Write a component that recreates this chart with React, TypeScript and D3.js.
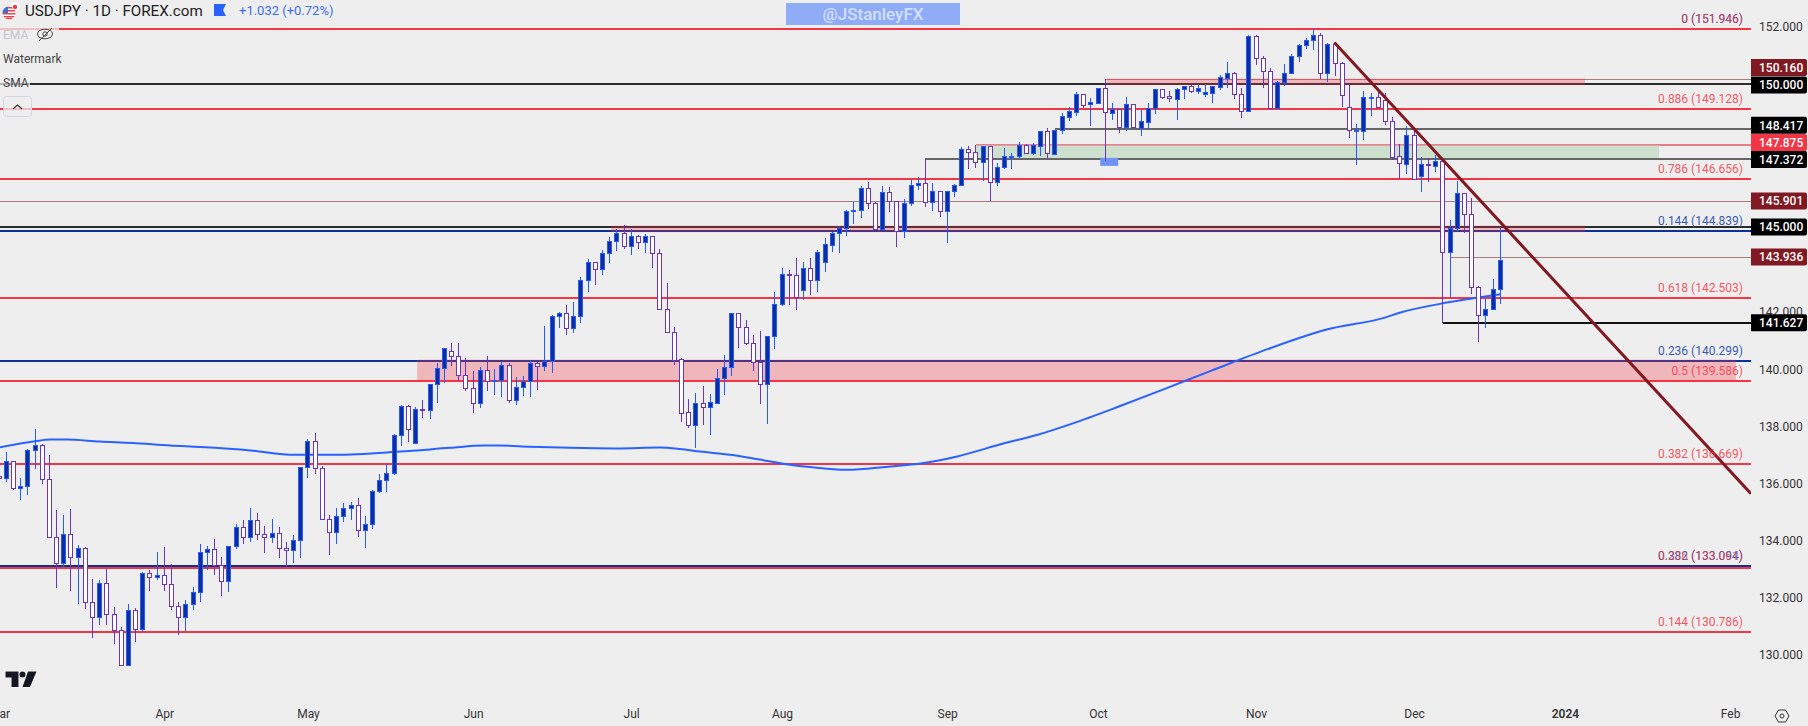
import React, { useEffect, useRef } from 'react';
import * as d3 from 'd3';

const highs = [136.30,
  137.10,136.78,136.19,137.20,137.90,137.38,137.00,135.07,134.90,135.11,
  133.85,133.78,132.65,132.62,133.00,131.67,130.94,131.78,131.64,132.90,
  132.97,133.60,133.78,133.18,131.84,131.92,132.37,133.88,133.81,134.06,
  133.40,133.81,134.58,134.72,135.14,134.97,134.51,134.76,134.48,133.95,
  134.20,136.58,137.56,137.77,136.61,134.90,135.14,135.32,135.35,135.49,
  134.86,135.77,136.33,136.68,137.72,
  138.73,138.73,138.68,138.93,139.49,
  140.22,140.74,140.92,140.92,140.40,139.94,140.08,140.47,140.01,140.26,
  140.22,139.73,139.77,140.33,140.26,141.52,141.91,142.01,142.26,142.36,
  143.24,143.87,143.76,144.18,144.64,144.92,145.06,144.92,144.70,144.73,
  144.67,144.22,143.03,141.49,140.40,138.96,139.17,139.42,139.14,140.01,
  140.50,141.98,141.98,141.73,141.21,141.35,141.17,142.71,143.55,143.48,
  143.90,143.76,143.90,144.18,144.60,144.80,145.03,145.59,145.87,146.43,
  146.57,145.85,146.43,146.39,145.90,145.97,146.64,146.74,147.41,146.53,
  146.25,146.25,146.50,147.79,147.83,147.86,147.83,147.83,147.22,147.76,
  147.58,147.97,147.90,147.93,148.35,148.46,148.39,148.98,149.20,149.72,
  149.65,149.51,149.87,150.16,149.33,149.12,149.55,149.30,149.09,149.33,
  149.83,149.83,149.76,149.86,149.93,149.97,150.00,150.00,149.93,150.30,
  150.77,150.42,149.86,151.72,151.72,150.98,150.56,150.09,150.70,151.04,
  151.40,151.61,151.92,151.79,151.44,151.47,150.77,150.00,148.60,149.76,
  149.69,149.72,149.69,148.84,147.90,148.53,148.39,147.44,147.41,147.52,
  147.34,145.23,146.60,146.19,146.01,142.92,142.47,143.17,144.98];

const lows = [136.15,
  136.03,135.75,135.40,135.57,136.49,135.96,134.11,132.32,133.05,132.23,
  131.75,131.58,130.56,131.04,131.02,130.35,129.63,129.63,130.44,130.77,
  132.21,132.60,132.21,131.54,130.67,130.81,131.54,131.85,132.97,132.77,
  132.04,132.18,133.71,133.88,133.95,134.02,133.57,133.92,133.39,133.06,
  133.21,133.36,136.19,136.33,134.75,133.50,133.88,134.65,134.72,134.13,
  133.74,134.41,135.67,135.70,136.30,
  137.29,137.43,137.41,138.27,138.25,
  138.82,139.50,140.12,139.59,139.25,138.46,138.64,139.25,139.10,139.03,
  138.82,138.75,139.07,139.03,139.28,139.94,139.87,141.45,141.21,141.28,
  141.63,142.71,142.96,143.31,143.73,144.15,144.22,144.01,144.22,144.08,
  143.55,142.10,141.30,140.15,138.16,137.95,137.25,138.03,137.70,138.79,
  139.10,139.77,140.75,140.85,139.94,138.79,138.09,140.71,142.22,142.26,
  142.08,142.43,142.61,142.71,143.41,144.11,144.07,144.67,145.10,145.31,
  145.62,144.89,144.89,145.52,144.30,144.60,145.73,146.29,145.69,145.55,
  145.34,144.42,146.04,146.43,147.02,147.06,146.60,145.89,146.43,147.02,
  147.02,147.40,147.55,147.51,147.48,147.37,147.51,148.25,148.70,148.88,
  149.16,148.53,149.32,147.31,148.74,148.28,148.35,148.45,148.18,148.42,
  148.95,149.47,149.37,148.74,149.47,149.69,149.65,149.55,149.33,149.79,
  149.86,149.47,148.81,149.02,150.67,149.86,149.16,149.16,149.93,150.36,
  150.77,151.23,151.19,150.16,150.07,150.28,149.19,148.11,147.16,148.04,
  148.88,149.16,148.56,147.34,146.67,146.85,146.64,146.22,146.57,146.92,
  141.63,142.52,144.84,144.76,142.65,140.97,141.46,142.08,142.27];

const opens = [136.24,
  136.18,136.77,135.83,135.90,137.16,137.34,136.15,134.11,133.20,134.22,
  133.41,133.73,131.84,131.31,132.50,131.42,130.86,129.63,131.56,130.89,
  132.85,132.71,132.78,132.47,131.70,131.31,131.77,132.19,133.59,133.69,
  133.13,132.57,133.80,134.46,134.11,134.71,134.22,134.11,134.25,133.73,
  133.66,134.01,136.57,137.48,136.53,134.75,134.29,134.85,135.13,135.24,
  134.36,134.57,135.73,136.11,136.36,
  137.69,138.71,137.41,138.60,138.57,
  139.48,140.04,140.63,140.46,139.79,139.34,138.81,139.97,139.58,139.62,
  140.14,138.92,139.37,139.58,140.21,140.11,140.28,141.86,141.96,141.44,
  141.86,143.12,143.75,143.51,144.07,144.49,144.77,144.31,144.66,144.45,
  144.66,144.07,142.10,141.30,140.35,138.50,138.03,138.81,138.69,138.83,
  139.68,140.07,141.96,141.47,140.91,140.26,139.48,141.16,142.28,143.33,
  143.30,142.78,143.55,143.13,143.76,144.36,144.77,144.94,145.55,145.57,
  146.35,145.82,144.91,146.20,145.89,144.84,145.82,146.45,146.52,145.85,
  146.24,145.53,146.24,146.45,147.71,147.63,147.28,147.82,146.58,147.08,
  147.45,147.47,147.85,147.59,147.84,148.34,147.55,148.38,148.86,149.03,
  149.64,149.29,149.35,149.85,149.00,149.11,148.51,149.29,148.47,148.68,
  149.15,149.81,149.57,149.49,149.81,149.92,149.77,149.64,149.70,149.91,
  150.22,150.37,149.64,149.07,151.67,150.93,150.44,149.17,150.06,150.37,
  150.97,151.36,151.53,151.71,150.37,151.39,150.72,149.18,148.37,148.37,
  149.52,149.53,149.43,148.69,147.47,147.21,148.20,146.79,147.19,147.14,
  147.29,144.12,144.94,146.17,145.43,142.88,141.89,142.10,142.81];

const closes = [136.20,
  136.77,135.83,135.90,137.16,137.34,136.15,134.11,133.20,134.22,133.41,
  133.73,131.84,131.31,132.50,131.42,130.86,129.63,131.56,130.89,132.85,
  132.71,132.78,132.47,131.70,131.31,131.77,132.19,133.59,133.69,133.13,
  132.57,133.80,134.46,134.11,134.71,134.22,134.11,134.25,133.73,133.66,
  134.01,136.57,137.48,136.53,134.75,134.29,134.85,135.13,135.24,134.36,
  134.57,135.73,136.11,136.36,137.69,
  138.72,137.90,138.60,138.59,139.48,
  140.04,140.74,140.46,139.79,139.34,138.81,139.97,139.58,139.62,140.14,
  138.92,139.37,139.58,140.21,140.11,140.28,141.86,141.96,141.44,141.86,
  143.12,143.75,143.51,144.07,144.49,144.77,144.31,144.66,144.45,144.66,
  144.07,142.10,141.30,140.33,138.48,138.03,138.81,138.69,138.85,139.69,
  140.07,141.96,141.47,140.91,140.26,139.48,141.16,142.28,143.33,143.31,
  142.53,143.55,143.13,144.11,144.39,144.77,144.94,145.54,145.59,146.35,
  145.82,144.91,146.20,145.89,144.84,145.82,146.45,146.52,145.85,146.24,
  145.53,146.24,146.45,147.71,147.63,147.28,147.82,146.58,147.08,147.47,
  147.48,147.85,147.59,147.85,148.34,147.57,148.38,148.87,149.04,149.64,
  149.28,149.36,149.85,149.01,149.11,148.51,149.29,148.48,148.69,149.15,
  149.81,149.56,149.50,149.81,149.92,149.77,149.85,149.71,149.92,150.23,
  150.37,149.64,149.07,151.67,150.93,150.44,149.17,150.07,150.37,150.97,
  151.36,151.53,151.71,150.37,151.39,150.72,149.60,148.38,148.40,149.53,
  149.55,149.18,148.69,147.45,147.22,148.20,146.66,147.19,147.15,147.29,
  144.12,144.94,146.17,145.43,142.88,141.89,142.10,142.81,143.82];

const smaBars = [0.1,5,7.1,9.4,14,18.6,23.8,28,35,40.5,46.8,55.8,62.8,67.4,69.7,73.9,79.5,86,92,94.8,97.6,101.8,105.9,110.1,112.5,118,123.7,128.5,133.4,139.8,144.6,149.4,155.8,162.3,168.7,176.7,184.7,192.8,195,200.6,204.8,209];
const smaValues = [137.26,137.47,137.53,137.53,137.46,137.41,137.32,137.27,137.15,137.0,137.0,137.11,137.24,137.32,137.32,137.28,137.24,137.22,137.25,137.2,137.11,137.0,136.83,136.65,136.58,136.47,136.58,136.7,136.94,137.39,137.7,138.09,138.68,139.31,139.94,140.71,141.38,141.8,141.98,142.29,142.47,142.63];

// month labels sit on the first trading bar of the month
const monthBars = [0,23,43,66,88,109,132,153,175,197,218,241];
const monthLabels = ['Mar','Apr','May','Jun','Jul','Aug','Sep','Oct','Nov','Dec','2024','Feb'];

const priceTicks = [130,132,134,136,138,140,142,144,146,148,150,152];

const redLevels = [151.946,149.128,146.656,142.503,139.586,136.669,133.03,130.786];
const navyLevels = [144.839,140.299,133.094];
const blackLevels = [150,145];

const partialPrices = [150.16,145.901,143.936,148.417,147.372,147.875,141.627];
const partialStarts = [154,0,202,147,129,136,201];
const partialKinds = ['maroon','maroon','maroon','gray','gray','pink','black'];

const zoneTops = [150.16,145,140.299];
const zoneBottoms = [150,144.839,139.586];
const zoneStarts = [154.2,85.2,58.2];
const zoneEnds = [220.8,220.8,241.8];

const greenZone = [147.875,147.372];
const greenBars = [135.9,231.1];

const trendBars = [185.9,243.9];
const trendPrices = [151.46,135.63];

const fibPrices = [149.128,146.656,142.503,139.586,136.669,130.786];
const fibLabels = ['0.886 (149.128)','0.786 (146.656)','0.618 (142.503)','0.5 (139.586)','0.382 (136.669)','0.144 (130.786)'];
const navyFibPrices = [151.946,144.839,140.299,133.094];
const navyFibLabels = ['0 (151.946)','0.144 (144.839)','0.236 (140.299)','0.382 (133.094)'];
const overFibPrices = [151.946,133.094];
const overFibLabels = ['0 (151.946)','0.236 (133.061)'];

const tagPrices = [150.16,150,148.417,147.875,147.372,145.901,145,143.936,141.627];
const tagKinds = ['maroon','black','black','red','black','maroon','black','maroon','black'];
const tagNudge = [-12,1,-4,-2,0.5,0,0.5,0,0];

const RED = '#f23645';
const NAVY = '#0c3299';
const MAROON = '#801922';
const UP_LINE = '#2459ff';
const UP_FILL = '#0d2f9e';
const DOWN_LINE = '#6a35b8';
const BG = '#eeeeee';
const FONT = 'Roboto, sans-serif';

const App: React.FC = () => {
  const ref = useRef<SVGSVGElement | null>(null);

  useEffect(() => {
    if (!ref.current) return;
    const width = 1808;
    const height = 726;
    const plotRight = 1751;

    const x = d3.scaleLinear().domain([0, 209]).range([-0.9, 1500.3]);
    const y = d3.scaleLinear().domain([130, 152]).range([654.3, 27]);

    const root = d3.select(ref.current);
    root.selectAll('*').remove();
    root.attr('width', width).attr('height', height).attr('viewBox', `0 0 ${width} ${height}`);

    root.append('rect').attr('width', width).attr('height', height).attr('fill', BG);

    const defs = root.append('defs');
    defs.append('clipPath').attr('id', 'plot').append('rect').attr('width', plotRight).attr('height', height);
    defs.append('clipPath').attr('id', 'flag').append('circle').attr('cx', 9).attr('cy', 13).attr('r', 6.5);

    const plot = root.append('g').attr('clip-path', 'url(#plot)');

    // horizontal levels
    const hline = (g: any, price: number, from: number, color: string, w: number) => {
      const py = Math.round(y(price));
      g.append('line')
        .attr('x1', from).attr('x2', plotRight)
        .attr('y1', py).attr('y2', py)
        .attr('stroke', color).attr('stroke-width', w)
        .attr('shape-rendering', 'crispEdges');
    };

    navyLevels.forEach(p => hline(plot, p, 0, NAVY, 2));
    redLevels.forEach(p => hline(plot, p, 0, RED, 2));
    blackLevels.forEach(p => hline(plot, p, 0, '#2b2b2b', 2));

    partialPrices.forEach((p, i) => {
      const kind = partialKinds[i];
      const from = x(partialStarts[i]);
      if (kind === 'maroon') hline(plot, p, from, '#a87a7c', 1);
      if (kind === 'gray') hline(plot, p, from, '#666666', 2);
      if (kind === 'pink') hline(plot, p, from, '#e8808a', 2);
      if (kind === 'black') hline(plot, p, from, '#111111', 2);
    });

    // shaded zones
    plot.append('rect')
      .attr('x', x(greenBars[0])).attr('width', x(greenBars[1]) - x(greenBars[0]))
      .attr('y', y(greenZone[0]) + 1).attr('height', y(greenZone[1]) - y(greenZone[0]) - 2)
      .attr('fill', '#cde0ce');

    zoneTops.forEach((top, i) => {
      plot.append('rect')
        .attr('x', x(zoneStarts[i])).attr('width', x(zoneEnds[i]) - x(zoneStarts[i]))
        .attr('y', y(top) - 1).attr('height', y(zoneBottoms[i]) - y(top) + 2)
        .attr('fill', RED).attr('fill-opacity', 0.3);
    });

    // small blue marker under the October wick
    plot.append('rect')
      .attr('x', x(153.3)).attr('width', x(155.8) - x(153.3))
      .attr('y', y(147.41)).attr('height', y(147.13) - y(147.41))
      .attr('fill', '#6d94f5');

    // sma
    const smaLine = d3.line<number>()
      .x((_, i) => x(smaBars[i]))
      .y(d => y(d))
      .curve(d3.curveMonotoneX);
    plot.append('path')
      .attr('d', smaLine(smaValues))
      .attr('fill', 'none')
      .attr('stroke', '#2962ff')
      .attr('stroke-width', 2);

    // candles
    const candles = plot.append('g');
    closes.forEach((c, i) => {
      const o = opens[i];
      const up = c >= o;
      const cx = Math.floor(x(i)) + 0.5;
      const top = Math.round(y(Math.max(o, c))) + 0.5;
      const bot = Math.round(y(Math.min(o, c))) + 0.5;
      candles.append('line')
        .attr('x1', cx).attr('x2', cx)
        .attr('y1', y(highs[i])).attr('y2', y(lows[i]))
        .attr('stroke', up ? UP_LINE : DOWN_LINE)
        .attr('stroke-width', 1)
        .attr('shape-rendering', 'crispEdges');
      candles.append('rect')
        .attr('x', cx - 2).attr('width', 4)
        .attr('y', top).attr('height', Math.max(1, bot - top))
        .attr('fill', up ? UP_FILL : '#ffffff')
        .attr('stroke', up ? UP_LINE : DOWN_LINE)
        .attr('stroke-width', 1)
        .attr('shape-rendering', 'crispEdges');
    });

    // trend line on top of the candles
    const trendLine = d3.line<number>()
      .x((_, i) => x(trendBars[i]))
      .y(d => y(d));
    plot.append('path')
      .attr('d', trendLine(trendPrices))
      .attr('fill', 'none')
      .attr('stroke', MAROON)
      .attr('stroke-width', 3);

    // fib labels
    const fibText = (price: number, label: string, color: string, opacity: number) => {
      plot.append('text')
        .attr('x', 1743)
        .attr('y', Math.round(y(price)) - 6)
        .attr('text-anchor', 'end')
        .attr('font-family', FONT)
        .attr('font-size', 12)
        .attr('fill', color)
        .attr('fill-opacity', opacity)
        .text(label);
    };
    navyFibPrices.forEach((p, i) => fibText(p, navyFibLabels[i], '#2a4fa8', 0.95));
    fibPrices.forEach((p, i) => fibText(p, fibLabels[i], RED, 0.85));
    overFibPrices.forEach((p, i) => fibText(p, overFibLabels[i], RED, 0.7));

    // price axis
    const yAxis = root.append('g')
      .attr('transform', `translate(${plotRight},0)`)
      .call(d3.axisRight(y).tickValues(priceTicks).tickSize(0).tickPadding(8).tickFormat(d3.format('.3f') as any));
    yAxis.select('.domain').remove();
    yAxis.selectAll('text')
      .attr('font-family', FONT).attr('font-size', 12).attr('fill', '#333333');

    // time axis
    const xAxis = root.append('g')
      .attr('transform', `translate(0,700)`)
      .call(d3.axisBottom(x).tickValues(monthBars).tickSize(0).tickPadding(9)
        .tickFormat((_, i) => monthLabels[i]));
    xAxis.select('.domain').remove();
    xAxis.selectAll('text')
      .attr('font-family', FONT).attr('font-size', 12).attr('fill', '#333333')
      .attr('font-weight', (_, i) => (monthLabels[i] === '2024' ? 600 : 400));

    // price tags
    tagPrices.forEach((p, i) => {
      const kind = tagKinds[i];
      const fill = kind === 'maroon' ? MAROON : kind === 'red' ? RED : '#000000';
      const cy = y(p) + tagNudge[i];
      root.append('path')
        .attr('d', `M${plotRight},${cy - 8.5}H1805a2,2 0 0 1 2,2V${cy + 6.5}a2,2 0 0 1 -2,2H${plotRight}Z`)
        .attr('fill', fill);
      root.append('text')
        .attr('x', 1759).attr('y', cy + 4.4)
        .attr('font-family', FONT).attr('font-size', 12).attr('font-weight', 500)
        .attr('fill', '#ffffff')
        .text(d3.format('.3f')(p));
    });

    // legend block: fades whatever runs behind it
    root.append('rect').attr('x', 0).attr('y', 26).attr('width', 59).attr('height', 4).attr('fill', BG).attr('fill-opacity', 0.75);
    root.append('rect').attr('x', 0).attr('y', 82).attr('width', 30).attr('height', 4).attr('fill', BG).attr('fill-opacity', 0.7);

    const flagIcon = root.append('g');
    flagIcon.append('circle').attr('cx', 15).attr('cy', 7).attr('r', 5.5).attr('fill', '#ffffff').attr('stroke', '#d8d8d8').attr('stroke-width', 0.5);
    flagIcon.append('circle').attr('cx', 15).attr('cy', 7).attr('r', 2.2).attr('fill', RED);
    const flagBody = flagIcon.append('g').attr('clip-path', 'url(#flag)');
    flagBody.append('rect').attr('x', 2).attr('y', 6).attr('width', 14).attr('height', 14).attr('fill', '#ffffff');
    [7, 10, 13, 16, 18].forEach(sy => {
      flagBody.append('rect').attr('x', 2).attr('y', sy).attr('width', 14).attr('height', 1.5).attr('fill', '#e8434d');
    });
    flagBody.append('rect').attr('x', 2).attr('y', 6).attr('width', 6).attr('height', 7).attr('fill', '#3a6fd8');

    const legendText = (label: string, lx: number, ly: number, size: number, color: string) =>
      root.append('text')
        .attr('x', lx).attr('y', ly)
        .attr('font-family', FONT).attr('font-size', size).attr('fill', color)
        .text(label);

    legendText('USDJPY · 1D · FOREX.com', 25, 16, 15.2, '#222222');
    legendText('+1.032 (+0.72%)', 239, 15, 13, '#3f6fe8');
    legendText('EMA', 3, 39, 12, '#c4c5cd');
    legendText('Watermark', 3, 63, 12, '#444444');
    legendText('SMA', 3, 87, 12, '#444444');

    // blue bookmark flag
    root.append('path').attr('d', 'M214,4H226L223,10L226,16H214Z').attr('fill', '#2962ff');

    // hidden-eye icon
    const eye = root.append('g').attr('fill', 'none').attr('stroke', '#333333').attr('stroke-width', 0.9);
    eye.append('ellipse').attr('cx', 45).attr('cy', 34).attr('rx', 7.5).attr('ry', 4.8);
    eye.append('circle').attr('cx', 45).attr('cy', 34).attr('r', 2.2);
    eye.append('line').attr('x1', 39).attr('y1', 41).attr('x2', 52).attr('y2', 28);

    // collapse button
    root.append('rect')
      .attr('x', 3.5).attr('y', 96.5).attr('width', 28).attr('height', 20).attr('rx', 3)
      .attr('fill', BG).attr('fill-opacity', 0.75)
      .attr('stroke', '#d4d6e0');
    root.append('path').attr('d', 'M13,109L17.5,105L22,109').attr('fill', 'none').attr('stroke', '#333333').attr('stroke-width', 1.2);

    // watermark handle
    root.append('rect').attr('x', 786).attr('y', 3).attr('width', 174).attr('height', 22).attr('fill', '#8fadf7');
    root.append('text')
      .attr('x', 873).attr('y', 20)
      .attr('text-anchor', 'middle')
      .attr('font-family', FONT).attr('font-size', 17).attr('font-weight', 500)
      .attr('fill', '#d3dffc')
      .text('@JStanleyFX');

    // tradingview logo
    const logo = root.append('g').attr('fill', '#131722').attr('stroke', '#ffffff').attr('stroke-width', 1).attr('paint-order', 'stroke');
    logo.append('path').attr('d', 'M5.5,671.5H18.5V687H11.5V677.5H5.5Z');
    logo.append('circle').attr('cx', 22.5).attr('cy', 674.5).attr('r', 3);
    logo.append('path').attr('d', 'M28,671.5H36.5L30,687H22.5Z');

    // settings icon
    const gear = root.append('g').attr('fill', 'none').attr('stroke', '#333333').attr('stroke-width', 1);
    gear.append('path').attr('d', 'M1775,716L1778.5,710H1785.5L1789,716L1785.5,722H1778.5Z');
    gear.append('circle').attr('cx', 1782).attr('cy', 716).attr('r', 2);
  }, []);

  return <svg ref={ref} style={{ position: 'fixed', left: 0, top: 0, display: 'block' }} />;
};

export default App;
